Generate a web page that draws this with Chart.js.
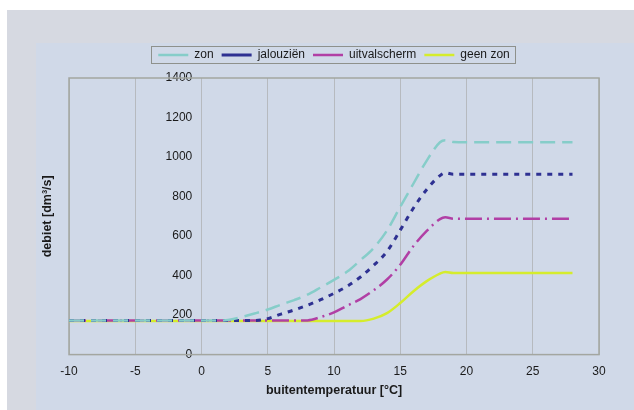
<!DOCTYPE html>
<html>
<head>
<meta charset="utf-8">
<script src="https://cdn.jsdelivr.net/npm/chart.js@4.4.1/dist/chart.umd.min.js"></script>
<style>
  html, body { margin: 0; padding: 0; background: #ffffff; }
  #wrap { width: 634px; height: 410px; }
</style>
</head>
<body>
<div id="wrap"><canvas id="debietChart" width="634" height="410"></canvas></div>
<script>
// buitentemperatuur [°C]
const temps = [-10, -5, 0, 1, 2, 3, 4, 5, 6, 7, 8, 9, 10, 11, 12, 13, 14, 15, 16, 17, 18, 18.4, 19, 20, 22, 24, 26, 28];

// debiet [dm³/s] per scenario
const zon =          [172, 172, 172, 172, 175, 190, 208, 228, 253, 276, 303, 340, 378, 420, 478, 540, 628, 748, 866, 982, 1075, 1085, 1076, 1075, 1075, 1075, 1075, 1075];
const jalouzien =    [172, 172, 172, 172, 172, 172, 172, 182, 205, 226, 250, 278, 310, 346, 393, 452, 522, 630, 742, 836, 906, 920, 913, 913, 913, 913, 913, 913];
const uitvalscherm = [172, 172, 172, 172, 172, 172, 172, 172, 172, 172, 173, 190, 214, 248, 281, 326, 380, 455, 550, 626, 686, 695, 688, 687, 687, 687, 687, 687];
const geenZon =      [170, 170, 170, 170, 170, 170, 170, 170, 170, 170, 170, 170, 170, 170, 170, 182, 210, 261, 321, 372, 410, 418, 413, 413, 413, 413, 413, 413];

const seriesLabels = ["zon", "jalouziën", "uitvalscherm", "geen zon"];
const seriesColors = ["#86cdc9", "#2e3192", "#b13fa5", "#d5ec2c"];
const seriesDash = [[15, 7], [5, 6], [17, 5, 2, 5], []];
const seriesValues = [zon, jalouzien, uitvalscherm, geenZon];

const xTicks = [-10, 30, 5];
const yTicks = [0, 1400, 200];

const fontFamily = "'Liberation Sans', Arial, sans-serif";

// achtergrond zoals in de Excel-grafiek
const backgroundPlugin = {
  id: "background",
  beforeDraw(chart) {
    const ctx = chart.ctx;
    ctx.save();
    ctx.fillStyle = "#ffffff";
    ctx.fillRect(0, 0, chart.width, chart.height);
    ctx.fillStyle = "#d6d9e1";
    ctx.fillRect(7, 10, chart.width - 7, chart.height - 10);
    ctx.fillStyle = "#d0d9e8";
    ctx.fillRect(36, 43, chart.width - 36, chart.height - 43);
    ctx.restore();
  },
};

// extra ruimte onder de legenda
const legendSpacePlugin = {
  id: "legendSpace",
  afterInit(chart) {
    const legend = chart.legend;
    if (!legend) return;
    const fit = legend.fit;
    legend.fit = function () {
      fit.call(this);
      this.height = 37;
    };
  },
};

// kader om het plotgebied
const framePlugin = {
  id: "frame",
  beforeDatasetsDraw(chart) {
    const a = chart.chartArea;
    const ctx = chart.ctx;
    ctx.save();
    ctx.strokeStyle = "#a3a6a0";
    ctx.lineWidth = 1.5;
    ctx.strokeRect(a.left, a.top, a.right - a.left, a.bottom - a.top);
    ctx.restore();
  },
};

// kader om de legenda
const legendBoxPlugin = {
  id: "legendBox",
  afterDraw(chart) {
    const boxes = chart.legend && chart.legend.legendHitBoxes;
    if (!boxes || !boxes.length) return;
    let left = Infinity, right = -Infinity, top = Infinity, bottom = -Infinity;
    boxes.forEach((b) => {
      left = Math.min(left, b.left);
      right = Math.max(right, b.left + b.width);
      top = Math.min(top, b.top);
      bottom = Math.max(bottom, b.top + b.height);
    });
    const ctx = chart.ctx;
    ctx.save();
    ctx.strokeStyle = "#8e918c";
    ctx.lineWidth = 1;
    ctx.strokeRect(Math.round(left - 7) + 0.5, Math.round(top - 3) + 0.5, Math.round(right - left + 13), Math.round(bottom - top + 5));
    ctx.restore();
  },
};

const datasets = seriesLabels.map((label, i) => ({
  label: label,
  data: temps.map((t, j) => ({ x: t, y: seriesValues[i][j] })),
  borderColor: seriesColors[i],
  backgroundColor: seriesColors[i],
  borderDash: seriesDash[i],
  borderWidth: i === 1 ? 3 : 2.5,
  pointRadius: 0,
  fill: false,
  cubicInterpolationMode: "monotone",
  yAxisID: "y",
}));

Chart.defaults.font.family = fontFamily;
Chart.defaults.font.size = 12;
Chart.defaults.color = "#1a1a1a";

new Chart(document.getElementById("debietChart").getContext("2d"), {
  type: "line",
  data: { datasets: datasets },
  plugins: [backgroundPlugin, legendSpacePlugin, framePlugin, legendBoxPlugin],
  options: {
    responsive: false,
    animation: false,
    layout: { padding: { top: 41, left: 38, right: 35, bottom: 8 } },
    plugins: {
      tooltip: { enabled: false },
      legend: {
        position: "top",
        fullSize: false,
        labels: {
          usePointStyle: true,
          pointStyle: "line",
          pointStyleWidth: 30,
          boxHeight: 12,
          padding: 8,
          font: { size: 12 },
        },
      },
    },
    scales: {
      x: {
        type: "linear",
        min: xTicks[0],
        max: xTicks[1],
        ticks: { stepSize: xTicks[2], padding: 10 },
        grid: { color: "#b6babf", lineWidth: 1, drawTicks: false },
        border: { display: false },
        title: {
          display: true,
          text: "buitentemperatuur [°C]",
          font: { weight: "bold", size: 12.5 },
          padding: { top: -6, bottom: 4 },
        },
      },
      yt: {
        type: "linear",
        position: "left",
        min: yTicks[0],
        max: yTicks[1],
        ticks: { display: false },
        grid: { display: false },
        border: { display: false },
        title: {
          display: true,
          text: "debiet [dm³/s]",
          font: { weight: "bold", size: 12.5 },
          padding: { top: 2, bottom: 6 },
        },
      },
      y: {
        type: "linear",
        position: { x: -0.7 },
        min: yTicks[0],
        max: yTicks[1],
        ticks: { stepSize: yTicks[2], callback: (v) => String(v) },
        grid: { display: false },
        border: { display: false },
      },
    },
  },
});
</script>
</body>
</html>
